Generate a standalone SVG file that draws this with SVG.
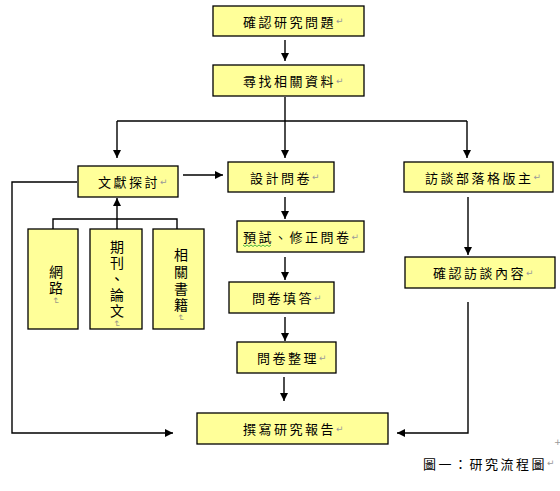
<svg xmlns="http://www.w3.org/2000/svg" width="560" height="491" viewBox="0 0 560 491">
<style>
.box{fill:#FFFF99;stroke:#000;stroke-width:1.3}
.t{font-family:"Noto Sans CJK TC","Noto Sans CJK SC",sans-serif;font-size:13px;letter-spacing:2.5px;fill:#000;dominant-baseline:central}
.v{font-family:"Noto Sans CJK TC","Noto Sans CJK SC",sans-serif;font-size:14px;letter-spacing:2px;fill:#000;writing-mode:vertical-rl}
.pm{font-family:"DejaVu Sans",sans-serif;font-size:9px;fill:#999;letter-spacing:0}
.pmv{font-family:"DejaVu Sans",sans-serif;font-size:9px;fill:#998;letter-spacing:0}
.c{fill:none;stroke:#000;stroke-width:1.4}
.a{marker-end:url(#ah)}
</style>
<defs>
<marker id="ah" viewBox="0 0 10 10" refX="10" refY="5" markerWidth="9" markerHeight="8" markerUnits="userSpaceOnUse" orient="auto">
<path d="M0,0 L10,5 L0,10 z" fill="#000"/>
</marker>
</defs>
<rect width="560" height="491" fill="#fff"/>
<g id="connectors">
<path class="c a" d="M285,40 V61"/>
<path class="c" d="M285,97 V121"/>
<path class="c" d="M117,121 H467"/>
<path class="c a" d="M117,121 V158"/>
<path class="c a" d="M285,121 V158"/>
<path class="c a" d="M467,121 V158"/>
<path class="c a" d="M183,175 H223"/>
<path class="c a" d="M285,197 V219"/>
<path class="c a" d="M285,257 V280"/>
<path class="c a" d="M285,317 V341"/>
<path class="c a" d="M284,377 V401"/>
<path class="c a" d="M468,197 V255"/>
<path class="c a" d="M468,302 V433 H397"/>
<path class="c a" d="M77,182 H12 V433 H173"/>
<path class="c" d="M53,229 V219 H177 V229"/>
<path class="c a" d="M117,229 V198"/>
</g>
<g id="n1"><rect class="box" x="213" y="6" width="151" height="30"/><text class="t" x="243" y="21">確認研究問題<tspan class="pm">↵</tspan></text></g>
<g id="n2"><rect class="box" x="213" y="65" width="151" height="31"/><text class="t" x="243" y="80.5">尋找相關資料<tspan class="pm">↵</tspan></text></g>
<g id="n3"><rect class="box" x="78" y="166" width="100" height="31"/><text class="t" x="98" y="181.5">文獻探討<tspan class="pm">↵</tspan></text></g>
<g id="n4"><rect class="box" x="228" y="162" width="106" height="30"/><text class="t" x="250" y="177">設計問卷<tspan class="pm">↵</tspan></text></g>
<g id="n5"><rect class="box" x="237" y="221" width="127" height="31"/><text class="t" x="243" y="236.5">預試、修正問卷<tspan class="pm">↵</tspan></text>
<path d="M243,245 l2,1.5 l2,-1.5 l2,1.5 l2,-1.5 l2,1.5 l2,-1.5 l2,1.5 l2,-1.5 l2,1.5 l2,-1.5 l2,1.5 l2,-1.5 l2,1.5 l2,-1.5" fill="none" stroke="#3a3" stroke-width="0.9"/></g>
<g id="n6"><rect class="box" x="229" y="282" width="105" height="31"/><text class="t" x="252" y="297.5">問卷填答<tspan class="pm">↵</tspan></text></g>
<g id="n7"><rect class="box" x="237" y="342" width="99" height="31"/><text class="t" x="257" y="357.5">問卷整理<tspan class="pm">↵</tspan></text></g>
<g id="n8"><rect class="box" x="197" y="413" width="191" height="31"/><text class="t" x="243" y="428.5">撰寫研究報告<tspan class="pm">↵</tspan></text></g>
<g id="n9"><rect class="box" x="404" y="162" width="149" height="30"/><text class="t" x="425" y="177">訪談部落格版主<tspan class="pm">↵</tspan></text></g>
<g id="n10"><rect class="box" x="405" y="257" width="150" height="31"/><text class="t" x="433" y="272.5">確認訪談內容<tspan class="pm">↵</tspan></text></g>
<g id="n11"><rect class="box" x="28" y="229" width="50" height="100"/>
<text class="v" x="56" y="265">網路<tspan class="pmv">↵</tspan></text></g>
<g id="n12"><rect class="box" x="90" y="229" width="52" height="100"/>
<text class="v" x="117" y="240">期刊、論文<tspan class="pmv">↵</tspan></text></g>
<g id="n13"><rect class="box" x="153" y="229" width="51" height="100"/>
<text class="v" x="181" y="248" style="letter-spacing:2.6px">相關書籍<tspan class="pmv">↵</tspan></text></g>
<text class="pm" x="554" y="445">+</text>
<text class="t" x="423" y="463">圖一：研究流程圖<tspan class="pm">↵</tspan></text>
</svg>
